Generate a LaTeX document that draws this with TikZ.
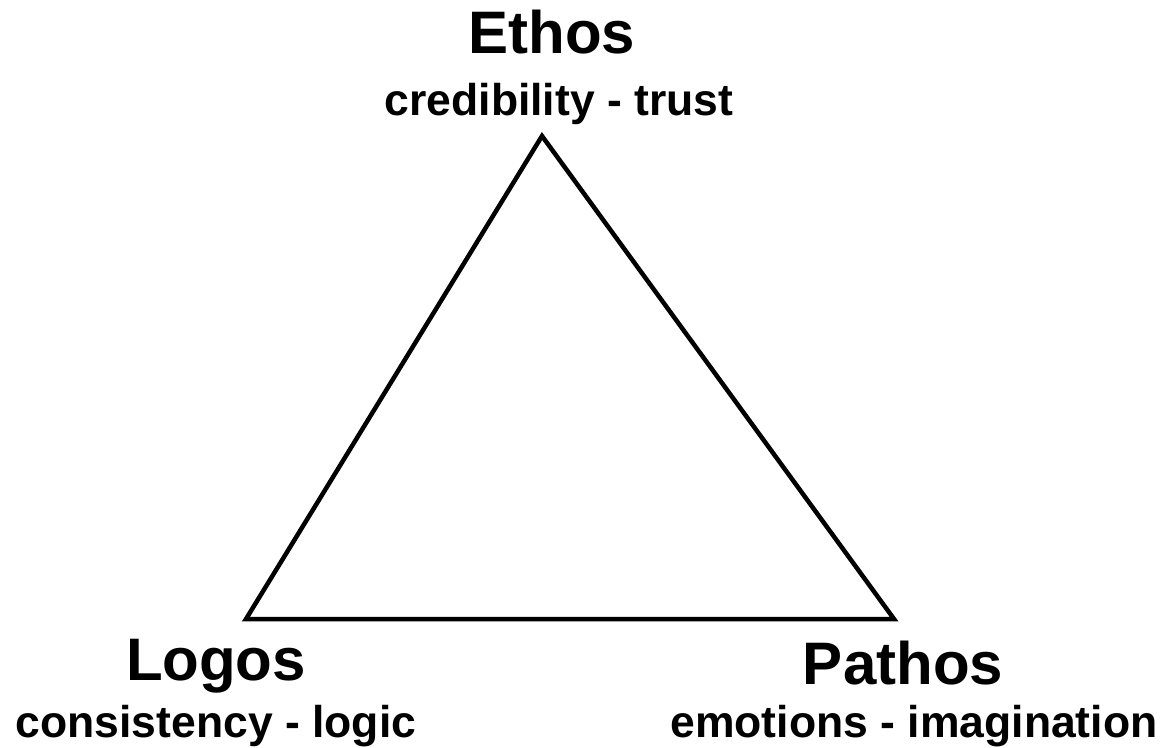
\documentclass[tikz,border=0pt]{standalone}
\usepackage{fontspec}
\setmainfont{Liberation Sans}
\usepackage{tikz}

\tikzset{
	heading/.style={anchor=base, inner sep=0pt, font=\fontsize{60}{72}\selectfont\bfseries},
	subheading/.style={anchor=base, inner sep=0pt, font=\fontsize{44.5}{53}\selectfont\bfseries},
}

\begin{document}
\begin{tikzpicture}[x=1pt, y=-1pt]
	\useasboundingbox (0,0) rectangle (1166,747);
	\coordinate (top) at (542,136);
	\coordinate (left) at (246,619);
	\coordinate (right) at (894,619);
	\draw [line width=4.5pt] (top) -- (left) -- (right) -- cycle;
	\node[heading] (ethos) at (552,53) {Ethos};
	\node[subheading] (ethossub) at (559,115) {credibility - trust};
	\node[heading] (logos) at (216,680) {Logos};
	\node[subheading] (logossub) at (216,737) {consistency - logic};
	\node[heading] (pathos) at (903,684) {Pathos};
	\node[subheading] (pathossub) at (914,737) {emotions - imagination};
\end{tikzpicture}
\end{document}
